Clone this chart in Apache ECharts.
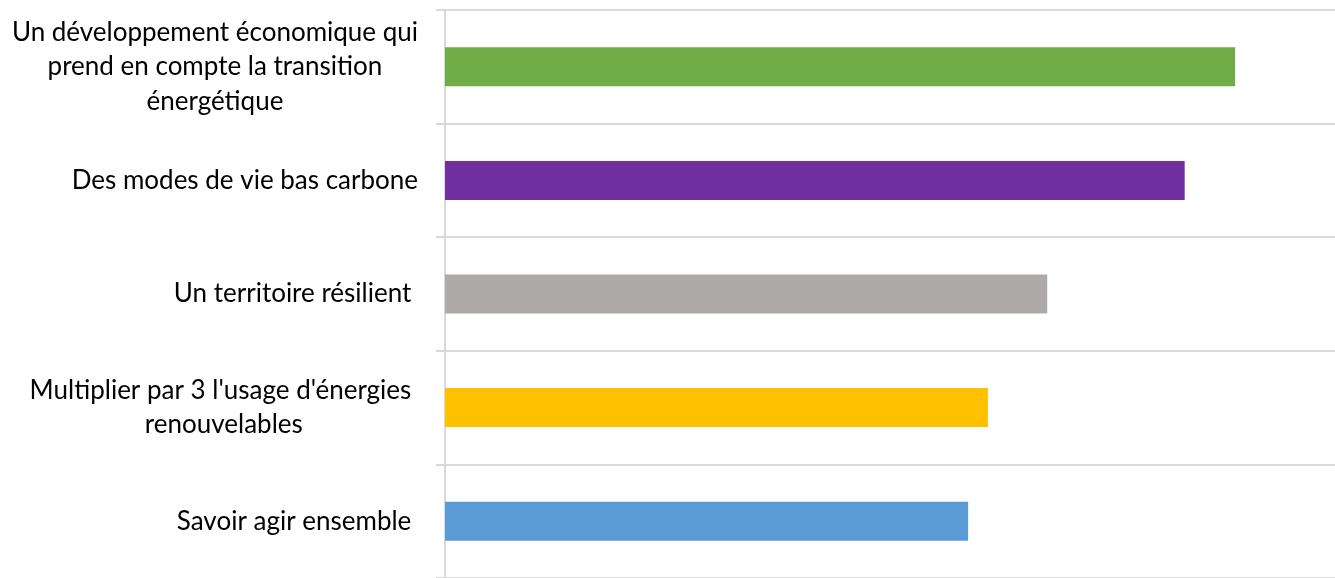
<!DOCTYPE html>
<html>
<head>
<meta charset="utf-8">
<script src="https://cdn.jsdelivr.net/npm/echarts@6/dist/echarts.min.js"></script>
<style>
  html, body { margin: 0; padding: 0; background: #fff; }
  #chart { width: 1335px; height: 578px; }
</style>
</head>
<body>
<div id="chart"></div>
<script>
// Priority themes, top to bottom (line breaks as they are set in the labels)
const categories = [
  "Un développement économique qui\nprend en compte la transition\nénergétique",
  "Des modes de vie bas carbone",
  "Un territoire résilient ",
  "Multiplier par 3 l'usage d'énergies \nrenouvelables",
  "Savoir agir ensemble "
];
// Share of answers (%) for each theme
const values = [79.9, 74.8, 60.9, 54.9, 52.9];
const barColors = ["#70ad47", "#7030a0", "#aeaaaa", "#ffc000", "#5b9bd5"];
const valueMax = 90;

const gridColor = "#d9d9d9";
const chart = echarts.init(document.getElementById("chart"), null, { renderer: "canvas" });

chart.setOption({
  animation: false,
  backgroundColor: "#ffffff",
  grid: { left: 445, right: 0, top: 10, height: 572.5, containLabel: false },
  xAxis: {
    type: "value",
    min: 0,
    max: valueMax,
    show: false,
    splitLine: { show: false }
  },
  yAxis: {
    type: "category",
    data: categories,
    inverse: true,
    boundaryGap: true,
    axisLine: { show: true, lineStyle: { color: gridColor, width: 2 } },
    axisTick: { show: true, length: 9, lineStyle: { color: gridColor, width: 2 } },
    splitLine: { show: true, lineStyle: { color: gridColor, width: 2 } },
    axisLabel: {
      margin: 27,
      formatter: function (v) {
        return v.split("\n").map(function (l) { return "{t|" + l + "}"; }).join("\n");
      },
      rich: {
        t: {
          fontFamily: "Lato, 'Open Sans', sans-serif",
          fontSize: 26,
          lineHeight: 34.5,
          color: "#000000",
          align: "center"
        }
      }
    }
  },
  series: [{
    type: "bar",
    barWidth: 39,
    data: values.map(function (v, i) {
      return { value: v, itemStyle: { color: barColors[i] } };
    })
  }]
});
</script>
</body>
</html>
